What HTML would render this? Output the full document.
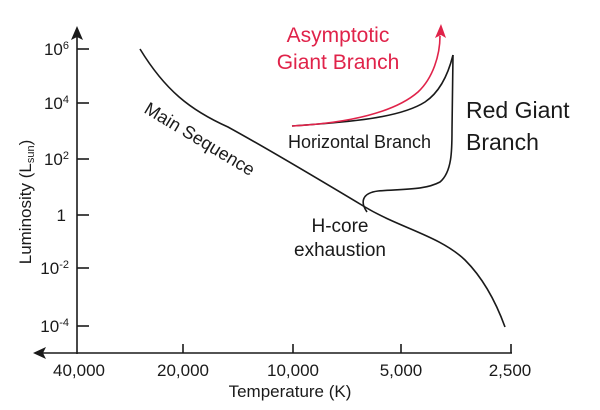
<!DOCTYPE html>
<html><head><meta charset="utf-8"><style>
html,body{margin:0;padding:0;background:#fff;}
svg{display:block;}
</style></head><body>
<svg width="600" height="410" viewBox="0 0 600 410" xmlns="http://www.w3.org/2000/svg">
<g stroke="#1a1a1a" stroke-width="1.6" fill="none">
<line x1="77" y1="36" x2="77" y2="354"/>
<line x1="38" y1="353" x2="512" y2="353"/>
<line x1="77" y1="49" x2="89" y2="49"/>
<line x1="77" y1="103" x2="89" y2="103"/>
<line x1="77" y1="159" x2="89" y2="159"/>
<line x1="77" y1="215" x2="89" y2="215"/>
<line x1="77" y1="268" x2="89" y2="268"/>
<line x1="77" y1="326" x2="89" y2="326"/>
<line x1="183" y1="353" x2="183" y2="344"/>
<line x1="293" y1="353" x2="293" y2="344"/>
<line x1="401" y1="353" x2="401" y2="344"/>
<line x1="511" y1="353" x2="511" y2="344"/>
<path d="M140,49 C165,90 190,110 228,127 C270,150 320,180 365,207 C400,228 440,236 465,260 C485,280 497,305 505,327"/>
<path d="M367,212 C360,202 362,193 378,191 C405,189 425,190 440,182 C452,172 452,150 452,130 L453,55"/>
<path d="M292,126 C350,122 400,118 425,102 C440,92 448,75 453,55"/>
</g>
<path d="M33,353 L46,347 L43,353 L46,359 Z" fill="#1a1a1a"/>
<path d="M77,26 L71,40 L77,37 L83,40 Z" fill="#1a1a1a"/>
<path d="M292,126 C350,123 395,112 418,92 C433,78 440,55 440,36" stroke="#e0234a" stroke-width="1.6" fill="none"/>
<path d="M441,24 L435,38 L441,35 L446,38 Z" fill="#e0234a"/>
<g font-size="17" fill="#1a1a1a" font-family="Liberation Sans, sans-serif">
<text x="69" y="55" text-anchor="end">10<tspan font-size="11" dy="-6">6</tspan></text>
<text x="69" y="109" text-anchor="end">10<tspan font-size="11" dy="-6">4</tspan></text>
<text x="69" y="165" text-anchor="end">10<tspan font-size="11" dy="-6">2</tspan></text>
<text x="66" y="221" text-anchor="end">1</text>
<text x="69" y="274" text-anchor="end">10<tspan font-size="11" dy="-6">-2</tspan></text>
<text x="69" y="332" text-anchor="end">10<tspan font-size="11" dy="-6">-4</tspan></text>
<text x="79" y="376" text-anchor="middle">40,000</text>
<text x="183" y="376" text-anchor="middle">20,000</text>
<text x="293" y="376" text-anchor="middle">10,000</text>
<text x="401" y="376" text-anchor="middle">5,000</text>
<text x="510" y="376" text-anchor="middle">2,500</text>
<text x="290" y="397" text-anchor="middle">Temperature (K)</text>
<text transform="translate(31,202) rotate(-90)" text-anchor="middle">Luminosity (L<tspan font-size="11" dy="3">sun</tspan><tspan dy="-3">)</tspan></text>
<text transform="translate(143,112) rotate(31)" font-size="18">Main Sequence</text>
<text x="288" y="148" font-size="18">Horizontal Branch</text>
<text x="340" y="232" text-anchor="middle" font-size="19">H-core</text>
<text x="340" y="256" text-anchor="middle" font-size="19">exhaustion</text>
</g>
<g font-family="Liberation Sans, sans-serif">
<text x="338" y="42" text-anchor="middle" font-size="21" fill="#e0234a">Asymptotic</text>
<text x="338" y="69" text-anchor="middle" font-size="21" fill="#e0234a">Giant Branch</text>
<text x="466" y="118" font-size="23" fill="#1a1a1a">Red Giant</text>
<text x="466" y="150" font-size="23" fill="#1a1a1a">Branch</text>
</g>
</svg>
</body></html>
